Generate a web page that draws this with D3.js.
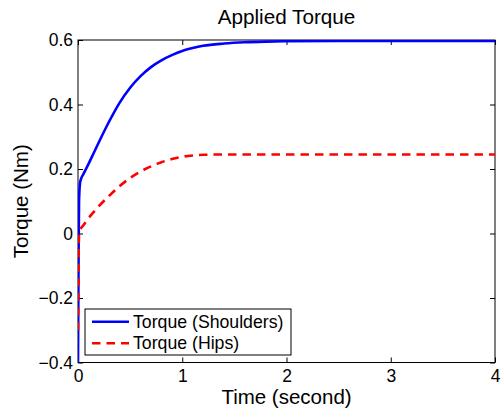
<!DOCTYPE html>
<html>
<head>
<meta charset="utf-8">
<script src="https://cdn.jsdelivr.net/npm/d3@7"></script>
<style>
  html, body { margin: 0; padding: 0; background: #fff; }
  svg { display: block; font-family: "Liberation Sans", Arial, Helvetica, sans-serif; }
</style>
</head>
<body>
<svg id="chart" width="504" height="411"></svg>
<script>
// Sample times (s)
const times = [0, 0.005, 0.01, 0.02, 0.03, 0.05, 0.1, 0.15, 0.2, 0.3, 0.4, 0.5, 0.6, 0.7, 0.8, 0.9, 1.0, 1.1, 1.2, 1.4, 1.6, 1.8, 2.0, 2.5, 3.0, 3.5, 4.0];
// Applied torque at the shoulders (Nm)
const shoulders = [-0.4, -0.1, 0.10, 0.158, 0.17, 0.183, 0.215, 0.249, 0.283, 0.348, 0.406, 0.452, 0.488, 0.516, 0.537, 0.553, 0.566, 0.575, 0.582, 0.589, 0.593, 0.595, 0.596, 0.597, 0.597, 0.597, 0.597];
// Applied torque at the hips (Nm)
const hips = [-0.3, -0.1, 0.0, 0.012, 0.017, 0.025, 0.047, 0.066, 0.085, 0.117, 0.147, 0.172, 0.192, 0.208, 0.221, 0.231, 0.238, 0.242, 0.244, 0.245, 0.245, 0.245, 0.245, 0.245, 0.245, 0.245, 0.245];

const xTicks = [0, 1, 2, 3, 4];
const yTicks = [-0.4, -0.2, 0, 0.2, 0.4, 0.6];
const seriesNames = ["Torque (Shoulders)", "Torque (Hips)"];

const svg = d3.select("#chart");
const m = { left: 78, right: 495, top: 40, bottom: 362.5 };

const x = d3.scaleLinear().domain([0, 4]).range([m.left, m.right]);
const y = d3.scaleLinear().domain([-0.4, 0.6]).range([m.bottom, m.top]);

svg.append("defs").append("clipPath").attr("id", "plot")
  .append("rect")
  .attr("x", m.left).attr("y", m.top)
  .attr("width", m.right - m.left).attr("height", m.bottom - m.top);

// Axes with inward ticks on all four sides
const tickLen = 5;
const bottomAxis = d3.axisBottom(x).tickValues(xTicks).tickSizeInner(-tickLen).tickSizeOuter(0).tickPadding(7).tickFormat(d3.format("d"));
const topAxis = d3.axisTop(x).tickValues(xTicks).tickSizeInner(-tickLen).tickSizeOuter(0).tickFormat("");
const leftAxis = d3.axisLeft(y).tickValues(yTicks).tickSizeInner(-tickLen).tickSizeOuter(0).tickPadding(5).tickFormat(d => d3.format("")(+d.toFixed(1)));
const rightAxis = d3.axisRight(y).tickValues(yTicks).tickSizeInner(-tickLen).tickSizeOuter(0).tickFormat("");

function styleAxis(g) {
  g.select(".domain").remove();
  g.selectAll(".tick line").attr("stroke", "#000").attr("stroke-width", 1);
  g.selectAll(".tick text").attr("fill", "#000").attr("font-size", 17.5);
}

svg.append("g").attr("transform", `translate(0,${m.bottom})`).call(bottomAxis).call(styleAxis);
svg.append("g").attr("transform", `translate(0,${m.top})`).call(topAxis).call(styleAxis);
svg.append("g").attr("transform", `translate(${m.left},0)`).call(leftAxis).call(styleAxis);
svg.append("g").attr("transform", `translate(${m.right},0)`).call(rightAxis).call(styleAxis);

svg.append("rect")
  .attr("x", m.left).attr("y", m.top)
  .attr("width", m.right - m.left).attr("height", m.bottom - m.top)
  .attr("fill", "none").attr("stroke", "#000").attr("stroke-width", 1);

// Curves
const line = d3.line().curve(d3.curveMonotoneX);
const plot = svg.append("g").attr("clip-path", "url(#plot)");
plot.append("path")
  .attr("d", line(times.map((t, i) => [x(t), y(shoulders[i])])))
  .attr("fill", "none").attr("stroke", "#0000ff").attr("stroke-width", 2.6);
plot.append("path")
  .attr("d", line(times.map((t, i) => [x(t), y(hips[i])])))
  .attr("fill", "none").attr("stroke", "#ff0000").attr("stroke-width", 2.6)
  .attr("stroke-dasharray", "8.5,6");

// Title and axis labels
svg.append("text").attr("x", (m.left + m.right) / 2).attr("y", 24)
  .attr("text-anchor", "middle").attr("font-size", 20.7).text("Applied Torque");
svg.append("text").attr("x", (m.left + m.right) / 2).attr("y", 404)
  .attr("text-anchor", "middle").attr("font-size", 20.5).text("Time (second)");
svg.append("text").attr("transform", `translate(28,${(m.top + m.bottom) / 2}) rotate(-90)`)
  .attr("text-anchor", "middle").attr("font-size", 20.5).text("Torque (Nm)");

// Legend
const lg = svg.append("g");
lg.append("rect").attr("x", 85).attr("y", 309).attr("width", 206).attr("height", 46)
  .attr("fill", "#fff").attr("stroke", "#000").attr("stroke-width", 1);
const legendStyles = [
  { color: "#0000ff", dash: null },
  { color: "#ff0000", dash: "8.5,6" }
];
seriesNames.forEach((name, i) => {
  const yy = 321.7 + i * 21.6;
  lg.append("line").attr("x1", 92).attr("x2", 129).attr("y1", yy).attr("y2", yy)
    .attr("stroke", legendStyles[i].color).attr("stroke-width", 2.6)
    .attr("stroke-dasharray", legendStyles[i].dash);
  lg.append("text").attr("x", 133).attr("y", yy).attr("dy", "0.35em")
    .attr("font-size", 17.7).text(name);
});
</script>
</body>
</html>
